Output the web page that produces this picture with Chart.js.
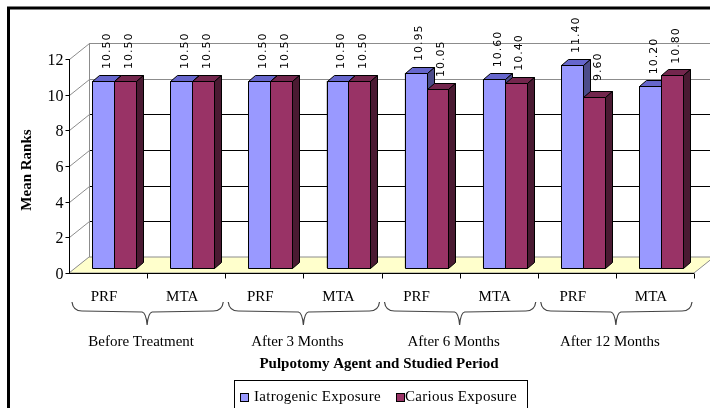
<!DOCTYPE html>
<html><head><meta charset="utf-8">
<script src="https://cdn.jsdelivr.net/npm/chart.js@4/dist/chart.umd.min.js"></script>
<style>html,body{margin:0;padding:0;background:#fff;overflow:hidden}</style>
</head><body>
<canvas id="c" width="710" height="408"></canvas>
<script>
// ---- data ----
const agents = ['PRF','MTA','PRF','MTA','PRF','MTA','PRF','MTA'];
const periods = ['Before Treatment','After 3 Months','After 6 Months','After 12 Months'];
const iatrogenic = [10.50,10.50,10.50,10.50,10.95,10.60,11.40,10.20];
const carious = [10.50,10.50,10.50,10.50,10.05,10.40,9.60,10.80];
const yTicks = [0,2,4,6,8,10,12];
const seriesNames = ['Iatrogenic Exposure','Carious Exposure'];
const xTitle = 'Pulpotomy Agent and Studied Period';
const yTitle = 'Mean Ranks';

// ---- styles ----
const SERIF = '"Liberation Serif", "Times New Roman", serif';
const faces = [
  {front:'#9999FF', top:'#6666CC', side:'#4C4C8A'},
  {front:'#993366', top:'#73264D', side:'#4A1A32'}
];
const FX=-6, FY=5, BX=14, BY=-11, DX=7, DY=-6;

function line(ctx,x1,y1,x2,y2,color,w){
  ctx.beginPath();ctx.moveTo(x1,y1);ctx.lineTo(x2,y2);
  ctx.strokeStyle=color;ctx.lineWidth=w||1;ctx.stroke();
}

const plugin3d = {
  id:'plot3d',
  beforeDatasetsDraw(chart){
    const ctx=chart.ctx, xs=chart.scales.x, ys=chart.scales.y, a=chart.chartArea;
    const L=a.left, R=a.right, p0=ys.getPixelForValue(0), p12=ys.getPixelForValue(12);
    ctx.save();
    // back wall
    ctx.fillStyle='#fff';
    ctx.fillRect(L+BX, p12+BY, R-L, p0-p12);
    yTicks.forEach(v=>{
      const y=Math.round(ys.getPixelForValue(v)+BY)+0.5;
      const col = (v>=10||v===0)?'#8c8c8c':'#000';
      if(v>0) line(ctx, L+BX, y, R+BX+20, y, col, 1);
      // left wall diagonal
      line(ctx, L+FX+0.5, Math.round(ys.getPixelForValue(v)+FY)+0.5, L+BX+0.5, y, '#8c8c8c', 1);
    });
    line(ctx, L+BX+0.5, p0+BY, L+BX+0.5, p12+BY, '#8c8c8c', 1);
    // floor
    ctx.beginPath();
    ctx.moveTo(L+FX, p0+FY); ctx.lineTo(R+FX, p0+FY); ctx.lineTo(R+BX, p0+BY); ctx.lineTo(L+BX, p0+BY); ctx.closePath();
    ctx.fillStyle='#FFFFCC'; ctx.fill(); ctx.strokeStyle='#8c8c8c'; ctx.lineWidth=1; ctx.stroke();
    // front y axis
    const ax=Math.round(L+FX)+0.5;
    line(ctx, ax, p12+FY, ax, p0+FY+1, '#000', 1);
    ctx.font='16px '+SERIF; ctx.fillStyle='#000'; ctx.textAlign='right'; ctx.textBaseline='middle';
    yTicks.forEach(v=>{
      const y=Math.round(ys.getPixelForValue(v)+FY)+0.5;
      line(ctx, ax-4, y, ax, y, '#000', 1);
      ctx.fillText(String(v), ax-6, y+1);
    });
    // front x axis
    const fy=Math.round(p0+FY)+0.5;
    line(ctx, ax, fy, R+FX, fy, '#000', 1);
    const n=agents.length, cw=(R-L)/n;
    for(let i=1;i<=n;i++){
      const x=Math.round(L+FX+cw*i)+0.5;
      line(ctx, x, fy, x, fy+5, '#000', 1);
    }
    ctx.restore();
  },
  afterDatasetsDraw(chart){
    const ctx=chart.ctx;
    const metas=[chart.getDatasetMeta(0), chart.getDatasetMeta(1)];
    ctx.save();
    ctx.lineWidth=1; ctx.strokeStyle='#000'; ctx.lineJoin='miter';
    for(let i=0;i<agents.length;i++){
      metas.forEach((m,d)=>{
        const el=m.data[i];
        const l=Math.round(el.x-el.width/2)+0.5, r=Math.round(el.x+el.width/2)+0.5;
        const t=Math.round(el.y)+0.5, b=Math.round(el.base)+0.5;
        const f=faces[d];
        ctx.fillStyle=f.front; ctx.beginPath(); ctx.rect(l,t,r-l,b-t); ctx.fill(); ctx.stroke();
        ctx.fillStyle=f.top; ctx.beginPath();
        ctx.moveTo(l,t); ctx.lineTo(l+DX,t+DY); ctx.lineTo(r+DX,t+DY); ctx.lineTo(r,t); ctx.closePath(); ctx.fill(); ctx.stroke();
        ctx.fillStyle=f.side; ctx.beginPath();
        ctx.moveTo(r,t); ctx.lineTo(r+DX,t+DY); ctx.lineTo(r+DX,b+DY); ctx.lineTo(r,b); ctx.closePath(); ctx.fill(); ctx.stroke();
      });
    }
    // data labels
    ctx.font='11px "DejaVu Sans", sans-serif'; ctx.fillStyle='#000';
    ctx.textAlign='center'; ctx.textBaseline='middle';
    try{ctx.letterSpacing='1px';}catch(e){}
    metas.forEach((m,d)=>{
      const vals = d===0?iatrogenic:carious;
      m.data.forEach((el,i)=>{
        ctx.save();
        ctx.translate(el.x+4, el.y-30);
        ctx.rotate(-Math.PI/2);
        ctx.fillText(vals[i].toFixed(2), 0, 0);
        ctx.restore();
      });
    });
    ctx.restore();
  },
  afterDraw(chart){
    const ctx=chart.ctx, xs=chart.scales.x, ys=chart.scales.y, a=chart.chartArea;
    const L=a.left, R=a.right, p0=ys.getPixelForValue(0);
    const n=agents.length, cw=(R-L)/n;
    ctx.save();
    ctx.fillStyle='#000';
    // category labels
    ctx.font='15px '+SERIF; ctx.textAlign='center'; ctx.textBaseline='middle';
    agents.forEach((lab,i)=>{
      ctx.fillText(lab, xs.getPixelForValue(i)+FX-4, p0+FY+24);
    });
    // braces + period labels
    periods.forEach((lab,g)=>{
      const xl=L+FX+cw*2*g+3, xr=L+FX+cw*(2*g+2)-2, xm=L+FX+cw*(2*g+1);
      const yT=302, yM=311, yTip=325;
      ctx.beginPath();
      ctx.moveTo(xl,yT); ctx.quadraticCurveTo(xl+1,yM,xl+10,yM);
      ctx.lineTo(xm-5,yM+1); ctx.quadraticCurveTo(xm-1,yM+2,xm,yTip);
      ctx.moveTo(xr,yT); ctx.quadraticCurveTo(xr-1,yM,xr-10,yM);
      ctx.lineTo(xm+5,yM+1); ctx.quadraticCurveTo(xm+1,yM+2,xm,yTip);
      ctx.strokeStyle='#444'; ctx.lineWidth=1.2; ctx.stroke();
      ctx.fillStyle='#000';
      ctx.fillText(lab, xm-6, 342);
    });
    // axis titles
    ctx.font='bold 15px '+SERIF;
    ctx.fillText(xTitle, 379, 364);
    ctx.save(); ctx.translate(27,170); ctx.rotate(-Math.PI/2); ctx.fillText(yTitle,0,0); ctx.restore();
    // legend
    ctx.strokeStyle='#000'; ctx.lineWidth=1;
    ctx.strokeRect(234.5,380.5,293,40);
    ctx.font='15px '+SERIF; ctx.textAlign='left';
    try{ctx.letterSpacing='0.3px';}catch(e){}
    const lx=[[240.5,254],[396.5,405]];
    seriesNames.forEach((s,d)=>{
      ctx.fillStyle=faces[d].front;
      ctx.fillRect(lx[d][0],393.5,8,8); ctx.strokeRect(lx[d][0],393.5,8,8);
      ctx.fillStyle='#000'; ctx.fillText(s, lx[d][1], 397);
    });
    try{ctx.letterSpacing='0px';}catch(e){}
    // outer frame
    ctx.strokeStyle='#000'; ctx.lineWidth=3;
    ctx.strokeRect(8.5,8,740,440);
    ctx.restore();
  }
};

new Chart(document.getElementById('c'), {
  type:'bar',
  data:{
    labels: agents,
    datasets:[
      {label:seriesNames[0], data:iatrogenic, backgroundColor:faces[0].front, borderColor:'#000', borderWidth:1},
      {label:seriesNames[1], data:carious, backgroundColor:faces[1].front, borderColor:'#000', borderWidth:1}
    ]
  },
  options:{
    responsive:false, animation:false, devicePixelRatio:1,
    layout:{padding:{left:75,right:10,top:54,bottom:140}},
    categoryPercentage:0.56, barPercentage:1,
    plugins:{legend:{display:false}, tooltip:{enabled:false}},
    scales:{
      x:{display:false, offset:true},
      y:{display:false, min:0, max:12, ticks:{stepSize:2}}
    }
  },
  plugins:[plugin3d]
});
</script>
</body></html>
